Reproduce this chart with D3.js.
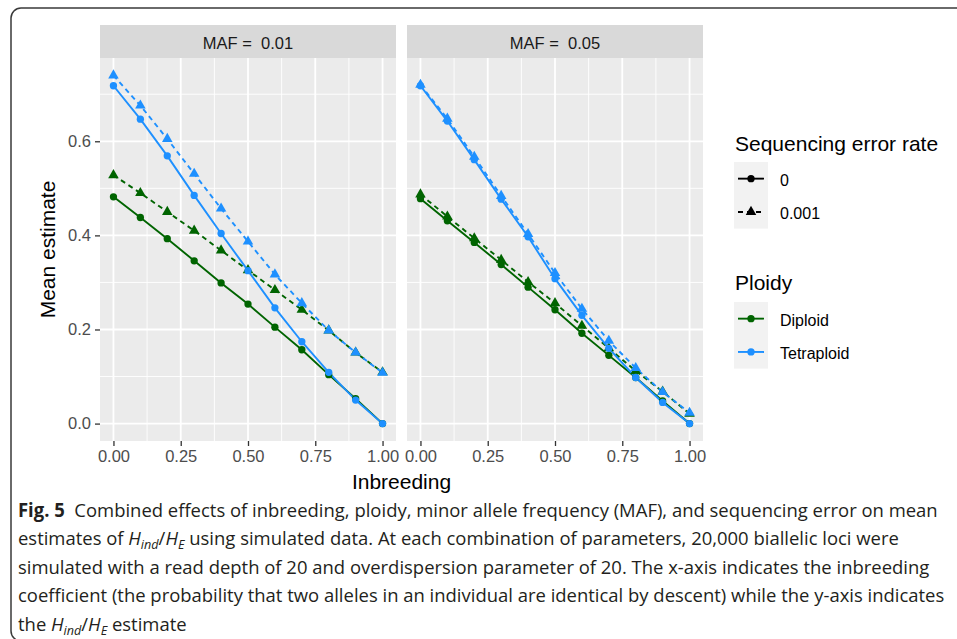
<!DOCTYPE html>
<html>
<head>
<meta charset="utf-8">
<script src="https://cdn.jsdelivr.net/npm/d3@7"></script>
<style>
  body { margin: 0; background: #fff; }
  svg { display: block; }
</style>
</head>
<body>
<svg id="mainsvg" width="957" height="639"></svg>
<script>
// ---- data ----
const inbreeding = [0, 0.1, 0.2, 0.3, 0.4, 0.5, 0.6, 0.7, 0.8, 0.9, 1.0];
const mafLevels = ["0.01", "0.05"];
const errorRates = ["0", "0.001"];
const ploidies = ["Diploid", "Tetraploid"];
const xTicks = [0, 0.25, 0.5, 0.75, 1];
const yTicks = [0, 0.2, 0.4, 0.6];

// MAF = 0.01
const diploidErr0Maf001 = [0.482, 0.438, 0.393, 0.346, 0.299, 0.254, 0.205, 0.157, 0.104, 0.053, 0.0];
const diploidErr001Maf001 = [0.528, 0.490, 0.450, 0.410, 0.368, 0.326, 0.284, 0.242, 0.198, 0.151, 0.109];
const tetraErr0Maf001 = [0.718, 0.647, 0.569, 0.485, 0.404, 0.325, 0.246, 0.174, 0.109, 0.050, 0.0];
const tetraErr001Maf001 = [0.740, 0.676, 0.605, 0.531, 0.457, 0.387, 0.317, 0.256, 0.198, 0.151, 0.108];
// MAF = 0.05
const diploidErr0Maf005 = [0.478, 0.431, 0.385, 0.338, 0.290, 0.242, 0.192, 0.145, 0.098, 0.048, 0.0];
const diploidErr001Maf005 = [0.487, 0.440, 0.394, 0.348, 0.301, 0.256, 0.208, 0.160, 0.112, 0.068, 0.021];
const tetraErr0Maf005 = [0.718, 0.643, 0.561, 0.477, 0.397, 0.308, 0.230, 0.160, 0.098, 0.045, 0.0];
const tetraErr001Maf005 = [0.720, 0.648, 0.567, 0.484, 0.403, 0.320, 0.244, 0.176, 0.118, 0.067, 0.023];

const seriesList = [
  {maf: "0.01", ploidy: "Diploid", err: "0", values: diploidErr0Maf001},
  {maf: "0.01", ploidy: "Diploid", err: "0.001", values: diploidErr001Maf001},
  {maf: "0.01", ploidy: "Tetraploid", err: "0", values: tetraErr0Maf001},
  {maf: "0.01", ploidy: "Tetraploid", err: "0.001", values: tetraErr001Maf001},
  {maf: "0.05", ploidy: "Diploid", err: "0", values: diploidErr0Maf005},
  {maf: "0.05", ploidy: "Diploid", err: "0.001", values: diploidErr001Maf005},
  {maf: "0.05", ploidy: "Tetraploid", err: "0", values: tetraErr0Maf005},
  {maf: "0.05", ploidy: "Tetraploid", err: "0.001", values: tetraErr001Maf005}
];

// ---- layout ----
const svg = d3.select('#mainsvg');
const chartFont = "'Liberation Sans', Arial, sans-serif";
const panelTop = 58, panelBottom = 441, stripTop = 25;
const panelX = [100, 407], panelW = 296;
const tickFont = 16.5, titleFont = 21;

const color = d3.scaleOrdinal().domain(ploidies).range(["#006400", "#1E90FF"]);
const dash = d3.scaleOrdinal().domain(errorRates).range([null, "5,4"]);
const shape = d3.scaleOrdinal().domain(errorRates).range([d3.symbolCircle, d3.symbolTriangle]);
const shapeSize = d3.scaleOrdinal().domain(errorRates).range([42, 48]);

const allVals = seriesList.flatMap(s => s.values);
const yMin = d3.min(allVals), yMax = d3.max(allVals), yPad = (yMax - yMin) * 0.05;
const y = d3.scaleLinear().domain([yMin - yPad, yMax + yPad]).range([panelBottom, panelTop]);

// outer frame of the figure
svg.append('rect')
  .attr('x', 11).attr('y', 8).attr('width', 1000).attr('height', 633)
  .attr('rx', 10)
  .attr('fill', 'none').attr('stroke', '#3a3a3a').attr('stroke-width', 1.5);

mafLevels.forEach((maf, i) => {
  const x = d3.scaleLinear().domain([-0.05, 1.05]).range([panelX[i], panelX[i] + panelW]);
  const g = svg.append('g');

  // strip
  g.append('rect').attr('x', panelX[i]).attr('y', stripTop)
    .attr('width', panelW).attr('height', panelTop - stripTop).attr('fill', '#D9D9D9');
  g.append('text').attr('x', panelX[i] + panelW / 2).attr('y', 49)
    .attr('text-anchor', 'middle').attr('font-family', chartFont).attr('font-size', tickFont)
    .attr('fill', '#1A1A1A').attr('xml:space', 'preserve')
    .text('MAF =  ' + maf);

  // panel background
  g.append('rect').attr('x', panelX[i]).attr('y', panelTop)
    .attr('width', panelW).attr('height', panelBottom - panelTop).attr('fill', '#EBEBEB');

  // minor grid
  const xMinor = d3.range(0.125, 1, 0.25);
  const yMinor = [0.1, 0.3, 0.5, 0.7];
  g.selectAll('.xminor').data(xMinor).enter().append('line')
    .attr('x1', d => x(d)).attr('x2', d => x(d)).attr('y1', panelTop).attr('y2', panelBottom)
    .attr('stroke', '#fff').attr('stroke-width', 0.9);
  g.selectAll('.yminor').data(yMinor).enter().append('line')
    .attr('y1', d => y(d)).attr('y2', d => y(d)).attr('x1', panelX[i]).attr('x2', panelX[i] + panelW)
    .attr('stroke', '#fff').attr('stroke-width', 0.9);
  // major grid
  g.selectAll('.xmajor').data(xTicks).enter().append('line')
    .attr('x1', d => x(d)).attr('x2', d => x(d)).attr('y1', panelTop).attr('y2', panelBottom)
    .attr('stroke', '#fff').attr('stroke-width', 1.8);
  g.selectAll('.ymajor').data(yTicks).enter().append('line')
    .attr('y1', d => y(d)).attr('y2', d => y(d)).attr('x1', panelX[i]).attr('x2', panelX[i] + panelW)
    .attr('stroke', '#fff').attr('stroke-width', 1.8);

  // x axis
  const xAxis = g.append('g').attr('transform', `translate(0,${panelBottom})`)
    .call(d3.axisBottom(x).tickValues(xTicks).tickFormat(d3.format('.2f')).tickSize(5).tickPadding(4));
  xAxis.select('.domain').remove();
  xAxis.selectAll('line').attr('stroke', '#333').attr('stroke-width', 1.3);
  xAxis.selectAll('text').attr('font-family', chartFont).attr('font-size', tickFont).attr('fill', '#4D4D4D');

  // y axis on the left panel only
  if (i === 0) {
    const yAxis = g.append('g').attr('transform', `translate(${panelX[0]},0)`)
      .call(d3.axisLeft(y).tickValues(yTicks).tickFormat(d3.format('.1f')).tickSize(5).tickPadding(4));
    yAxis.select('.domain').remove();
    yAxis.selectAll('line').attr('stroke', '#333').attr('stroke-width', 1.3);
    yAxis.selectAll('text').attr('font-family', chartFont).attr('font-size', tickFont).attr('fill', '#4D4D4D');
  }

  // lines then points
  const panelSeries = seriesList.filter(s => s.maf === maf);
  const line = d3.line().x((d, k) => x(inbreeding[k])).y(d => y(d));
  g.selectAll('.series').data(panelSeries).enter().append('path')
    .attr('d', d => line(d.values))
    .attr('fill', 'none')
    .attr('stroke', d => color(d.ploidy))
    .attr('stroke-width', 1.9)
    .attr('stroke-dasharray', d => dash(d.err));

  panelSeries.forEach(s => {
    g.selectAll(null).data(s.values).enter().append('path')
      .attr('transform', (d, k) => `translate(${x(inbreeding[k])},${y(d)})`)
      .attr('d', d3.symbol().type(shape(s.err)).size(shapeSize(s.err)))
      .attr('fill', color(s.ploidy));
  });
});

// axis titles
svg.append('text').attr('x', (panelX[0] + panelX[1] + panelW) / 2).attr('y', 488.5)
  .attr('text-anchor', 'middle').attr('font-family', chartFont).attr('font-size', titleFont)
  .attr('fill', '#000').text('Inbreeding');
svg.append('text').attr('transform', `translate(55,${(panelTop + panelBottom) / 2}) rotate(-90)`)
  .attr('text-anchor', 'middle').attr('font-family', chartFont).attr('font-size', titleFont)
  .attr('fill', '#000').text('Mean estimate');

// ---- legends ----
const legendX = 734, keyW = 34, keyH = 33.3;
function drawLegend(title, titleY, keyTop, entries) {
  const lg = svg.append('g');
  lg.append('text').attr('x', legendX + 1).attr('y', titleY)
    .attr('font-family', chartFont).attr('font-size', titleFont).attr('fill', '#000').text(title);
  lg.append('rect').attr('x', legendX).attr('y', keyTop)
    .attr('width', keyW).attr('height', keyH * entries.length).attr('fill', '#F2F2F2');
  entries.forEach((e, k) => {
    const cy = keyTop + keyH * (k + 0.5);
    lg.append('line').attr('x1', legendX + 4).attr('x2', legendX + keyW - 4)
      .attr('y1', cy).attr('y2', cy)
      .attr('stroke', e.color).attr('stroke-width', 1.9)
      .attr('stroke-dasharray', e.dash);
    lg.append('path').attr('transform', `translate(${legendX + keyW / 2},${cy})`)
      .attr('d', d3.symbol().type(e.shape).size(e.size)).attr('fill', e.color);
    lg.append('text').attr('x', legendX + 46).attr('y', cy + 7)
      .attr('font-family', chartFont).attr('font-size', 16).attr('fill', '#000').text(e.label);
  });
}
drawLegend('Sequencing error rate', 151, 162, errorRates.map(r => ({
  label: r, color: '#000', dash: dash(r), shape: shape(r), size: shapeSize(r)
})));
drawLegend('Ploidy', 290, 302, ploidies.map(p => ({
  label: p, color: color(p), dash: null, shape: d3.symbolCircle, size: 42
})));

// ---- caption ----
const capFont = "'Open Sans', 'Noto Sans', sans-serif";
const cap = svg.append('g').attr('font-family', capFont).attr('font-size', 19).attr('fill', '#231F20');
const capBase = [517, 545.5, 574, 602.5, 631];
function hRatio(t) {
  t.append('tspan').attr('font-style', 'italic').text('H');
  t.append('tspan').attr('font-style', 'italic').attr('font-size', 13).attr('dy', 4).text('ind');
  t.append('tspan').attr('dy', -4).text('/');
  t.append('tspan').attr('font-style', 'italic').text('H');
  t.append('tspan').attr('font-style', 'italic').attr('font-size', 13).attr('dy', 4).text('E');
}
const l1 = cap.append('text').attr('x', 18).attr('y', capBase[0]).attr('xml:space', 'preserve');
l1.append('tspan').attr('font-weight', 'bold').text('Fig. 5');
l1.append('tspan').text('  Combined effects of inbreeding, ploidy, minor allele frequency (MAF), and sequencing error on mean');
const l2 = cap.append('text').attr('x', 18).attr('y', capBase[1]);
l2.append('tspan').text('estimates of ');
hRatio(l2);
l2.append('tspan').attr('dy', -4).text(' using simulated data. At each combination of parameters, 20,000 biallelic loci were');
cap.append('text').attr('x', 18).attr('y', capBase[2])
  .text('simulated with a read depth of 20 and overdispersion parameter of 20. The x-axis indicates the inbreeding');
const l4 = cap.append('text').attr('x', 18).attr('y', capBase[3])
  .text('coefficient (the probability that two alleles in an individual are identical by descent) while the y-axis indicates');
const l5 = cap.append('text').attr('x', 18).attr('y', capBase[4]);
l5.append('tspan').text('the ');
hRatio(l5);
l5.append('tspan').attr('dy', -4).text(' estimate');

// squeeze the caption horizontally so the longest line ends where it does in the figure
const longest = l4.node().getComputedTextLength();
const sx = (945 - 18) / longest;
cap.attr('transform', `translate(18,0) scale(${sx},1) translate(-18,0)`);
</script>
</body>
</html>
